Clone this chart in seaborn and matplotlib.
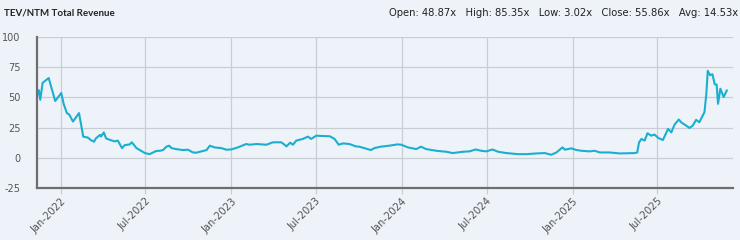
import matplotlib
matplotlib.use("Agg")
import matplotlib.pyplot as plt
import matplotlib.dates as mdates
import seaborn as sns
import pandas as pd

title = "TEV/NTM Total Revenue"
stats_text = "Open: 48.87x   High: 85.35x   Low: 3.02x   Close: 55.86x   Avg: 14.53x"

dates = [
    "2021-11-12", "2021-11-15", "2021-11-18", "2021-11-23", "2021-12-06", "2021-12-20",
    "2022-01-02", "2022-01-07", "2022-01-14", "2022-01-19", "2022-01-27", "2022-02-09",
    "2022-02-18", "2022-02-28", "2022-03-06", "2022-03-13", "2022-03-17", "2022-03-26",
    "2022-03-28", "2022-04-03", "2022-04-08", "2022-04-17", "2022-04-26", "2022-05-03",
    "2022-05-12", "2022-05-18", "2022-05-28", "2022-06-02", "2022-06-12", "2022-06-30",
    "2022-07-10", "2022-07-24", "2022-08-01", "2022-08-08", "2022-08-15", "2022-08-21",
    "2022-08-26", "2022-09-05", "2022-09-19", "2022-09-30", "2022-10-11", "2022-10-18",
    "2022-10-29", "2022-11-09", "2022-11-16", "2022-11-26", "2022-12-11", "2022-12-21",
    "2023-01-01", "2023-01-15", "2023-02-02", "2023-02-09", "2023-02-24", "2023-03-17",
    "2023-03-31", "2023-04-18", "2023-04-25", "2023-04-29", "2023-05-07", "2023-05-13",
    "2023-05-20", "2023-06-03", "2023-06-14", "2023-06-21", "2023-07-02", "2023-07-16",
    "2023-07-31", "2023-08-10", "2023-08-19", "2023-08-28", "2023-09-11", "2023-09-25",
    "2023-10-02", "2023-10-27", "2023-11-03", "2023-11-17", "2023-12-05", "2023-12-23",
    "2023-12-31", "2024-01-14", "2024-02-01", "2024-02-11", "2024-02-22", "2024-03-15",
    "2024-04-05", "2024-04-19", "2024-05-11", "2024-05-25", "2024-06-07", "2024-06-19",
    "2024-06-30", "2024-07-13", "2024-07-25", "2024-08-12", "2024-09-06", "2024-09-24",
    "2024-10-15", "2024-11-02", "2024-11-16", "2024-11-27", "2024-12-10", "2024-12-15",
    "2024-12-29", "2025-01-09", "2025-01-20", "2025-02-06", "2025-02-17", "2025-02-28",
    "2025-03-21", "2025-04-12", "2025-05-14", "2025-05-19", "2025-05-23", "2025-05-28",
    "2025-06-04", "2025-06-10", "2025-06-18", "2025-06-25", "2025-07-03", "2025-07-13",
    "2025-07-24", "2025-07-31", "2025-08-07", "2025-08-16", "2025-08-21", "2025-09-08",
    "2025-09-15", "2025-09-22", "2025-09-29", "2025-10-10", "2025-10-14", "2025-10-17",
    "2025-10-22", "2025-10-27", "2025-11-01", "2025-11-05", "2025-11-08", "2025-11-13",
    "2025-11-20", "2025-11-27",
]
values = [
    52.0, 56.0, 48.0, 62.0, 66.0, 47.0,
    53.6, 44.7, 37.0, 35.8, 30.0, 37.0,
    17.5, 16.7, 14.7, 13.3, 16.0, 19.0,
    17.5, 21.0, 16.0, 14.7, 13.6, 14.2,
    8.0, 10.5, 11.0, 12.8, 8.0, 3.9,
    3.0, 5.6, 5.8, 6.4, 9.2, 10.0,
    8.0, 7.2, 6.4, 6.7, 4.4, 4.2,
    5.3, 6.4, 10.0, 8.6, 8.0, 6.7,
    6.9, 8.6, 11.4, 10.8, 11.4, 10.8,
    12.8, 12.8, 10.8, 9.4, 12.5, 10.8,
    14.2, 15.6, 17.5, 15.6, 18.3, 18.0,
    17.8, 15.6, 10.8, 11.9, 11.4, 9.4,
    9.2, 6.4, 8.0, 9.2, 10.0, 11.1,
    10.8, 8.6, 7.2, 9.2, 7.2, 5.8,
    5.0, 3.9, 5.0, 5.3, 6.9, 5.8,
    5.3, 6.9, 5.0, 3.9, 3.0, 3.0,
    3.6, 3.9, 2.5, 4.4, 8.6, 6.7,
    7.8, 6.4, 5.8, 5.3, 5.8, 4.4,
    4.4, 3.6, 3.9, 4.4, 12.8, 15.6,
    14.2, 20.3, 18.3, 19.2, 16.4, 14.7,
    23.9, 21.0, 27.5, 31.7, 29.4, 24.7,
    26.7, 31.4, 29.4, 37.8, 53.0, 72.0,
    68.3, 69.2, 60.8, 60.6, 44.7, 57.2,
    50.3, 55.86,
]
y_ticks = [-25, 0, 25, 50, 75, 100]
x_tick_dates = ["2022-01-01", "2022-07-01", "2023-01-01", "2023-07-01",
                "2024-01-01", "2024-07-01", "2025-01-01", "2025-07-01"]

df = pd.DataFrame({"date": pd.to_datetime(dates), "value": values})

bg = "#EEF3FA"
sns.set_theme(style="white")
plt.rcParams["font.family"] = ["DejaVu Sans"]
plt.rcParams["axes.unicode_minus"] = False

fig = plt.figure(figsize=(7.4, 2.4), dpi=100, facecolor=bg)
ax = fig.add_axes([0.05, 0.2167, 0.9405, 0.6293])
ax.set_facecolor(bg)

sns.lineplot(data=df, x="date", y="value", ax=ax, color="#1AAFCF", linewidth=1.5)

ax.set_xlim(pd.Timestamp("2021-11-11"), pd.Timestamp("2025-12-10"))
ax.set_ylim(-25, 100)
ax.set_yticks(y_ticks)
ax.set_xticks(pd.to_datetime(x_tick_dates))
ax.xaxis.set_major_formatter(mdates.DateFormatter("%b-%Y"))

ax.grid(True, axis="both", color="#C9CED4", linewidth=0.9)
ax.set_axisbelow(True)
for s in ["top", "right"]:
    ax.spines[s].set_visible(False)
for s in ["left", "bottom"]:
    ax.spines[s].set_color("#6E6E6E")
    ax.spines[s].set_linewidth(1.6)
    ax.spines[s].set_zorder(5)

ax.tick_params(axis="y", length=0, pad=12, labelsize=7, labelcolor="#555555")
ax.tick_params(axis="x", length=4, width=0.9, color="#C9CED4", pad=2,
               labelsize=7.2, labelcolor="#555555", bottom=True)
for lbl in ax.get_xticklabels():
    lbl.set_rotation(45)
    lbl.set_ha("right")
    lbl.set_rotation_mode("anchor")
for lbl in ax.get_yticklabels():
    lbl.set_ha("right")

ax.set_xlabel("")
ax.set_ylabel("")

fig.text(0.006, 0.945, title, fontsize=7.0, fontweight="bold", color="#222222",
         va="center", ha="left", family=["Lato", "DejaVu Sans"])
fig.text(0.997, 0.945, stats_text, fontsize=7.2, color="#222222", va="center", ha="right")

fig.savefig("out.png", dpi=100, facecolor=bg)
